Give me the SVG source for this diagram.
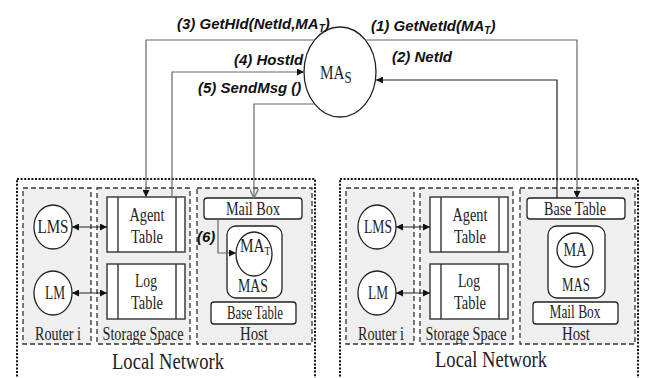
<svg xmlns="http://www.w3.org/2000/svg" width="645" height="378" viewBox="0 0 645 378">
<style>
.outer{fill:#fff;stroke:#111;stroke-width:2;stroke-dasharray:2 1.6}
.dash{fill:#efefef;stroke:#333;stroke-width:1.3;stroke-dasharray:5 3}
.tbl{fill:#fff;stroke:#333;stroke-width:1.4}
.box{fill:#fff;stroke:#222;stroke-width:1.3}
.ell{fill:#fff;stroke:#222;stroke-width:1.3}
.s{font-family:"Liberation Serif","Times New Roman",serif;fill:#222;font-size:19px;text-anchor:middle}
.sl{font-family:"Liberation Serif","Times New Roman",serif;fill:#222;font-size:19px}
.ln{font-family:"Liberation Serif","Times New Roman",serif;fill:#222;font-size:24px;text-anchor:middle}
.lab{font-family:"Liberation Sans",Arial,sans-serif;font-weight:bold;font-style:italic;font-size:15px;fill:#111}
.c{fill:none;stroke:#666;stroke-width:1.2}
.cb{fill:none;stroke:#222;stroke-width:1.2}
</style>
<defs>
<marker id="ah" viewBox="0 0 10 10" refX="10" refY="5" markerWidth="7" markerHeight="7" markerUnits="userSpaceOnUse" orient="auto-start-reverse"><path d="M0,0 L10,5 L0,10 z" fill="#111"/></marker>
<marker id="ao" viewBox="0 0 10 10" refX="10" refY="5" markerWidth="9" markerHeight="9" markerUnits="userSpaceOnUse" orient="auto"><path d="M0,0 L10,5 L0,10" fill="none" stroke="#777" stroke-width="1.5"/></marker>
</defs>

<!-- Left local network -->
<g id="localNetwork1">
<rect class="outer" x="17" y="179" width="298" height="240"/>
<text class="ln" x="168" y="369" textLength="112" lengthAdjust="spacingAndGlyphs">Local Network</text>
</g>
<g id="router1">
<rect class="dash" x="23" y="188" width="68" height="156"/>
<text class="s" x="58" y="340" textLength="46" lengthAdjust="spacingAndGlyphs">Router i</text>
</g>
<g id="storage1">
<rect class="dash" x="97" y="188" width="93" height="156"/>
<text class="s" x="143" y="340" textLength="81" lengthAdjust="spacingAndGlyphs">Storage Space</text>
</g>
<g id="host1">
<rect class="dash" x="197" y="188" width="115" height="156"/>
<text class="s" x="254" y="340" textLength="28" lengthAdjust="spacingAndGlyphs">Host</text>
</g>
<g id="lms1">
<ellipse class="ell" cx="53" cy="227" rx="19" ry="22"/>
<text class="s" x="53" y="233" textLength="31" lengthAdjust="spacingAndGlyphs">LMS</text>
</g>
<g id="lm1">
<ellipse class="ell" cx="53" cy="293" rx="19" ry="22"/>
<text class="s" x="55" y="299" textLength="20" lengthAdjust="spacingAndGlyphs">LM</text>
</g>
<g id="agentTable1">
<rect class="tbl" x="107" y="197" width="78" height="55"/>
<path class="tbl" d="M118,197 V252 M176,197 V252"/>
<text class="s" x="147" y="221" textLength="35" lengthAdjust="spacingAndGlyphs">Agent</text>
<text class="s" x="147" y="243" textLength="32" lengthAdjust="spacingAndGlyphs">Table</text>
</g>
<g id="logTable1">
<rect class="tbl" x="107" y="264" width="78" height="55"/>
<path class="tbl" d="M118,264 V319 M176,264 V319"/>
<text class="s" x="146" y="287" textLength="22" lengthAdjust="spacingAndGlyphs">Log</text>
<text class="s" x="147" y="309" textLength="32" lengthAdjust="spacingAndGlyphs">Table</text>
</g>
<g id="mailBox1">
<rect class="box" x="204" y="198" width="98" height="21" rx="3"/>
<text class="s" x="253" y="215" textLength="54" lengthAdjust="spacingAndGlyphs">Mail Box</text>
</g>
<g id="mas1">
<rect class="box" x="227" y="226" width="55" height="72" rx="9"/>
<text class="s" x="253" y="292" textLength="30" lengthAdjust="spacingAndGlyphs">MAS</text>
</g>
<g id="maT">
<ellipse class="ell" cx="254" cy="254" rx="18" ry="22"/>
<text class="sl" transform="translate(240,252) scale(0.8,1)" x="0" y="0" font-size="18">MA<tspan font-size="12" dy="3">T</tspan></text>
</g>
<g id="baseTable1">
<rect class="box" x="211" y="302" width="85" height="22" rx="3"/>
<text class="s" x="255" y="319" textLength="56" lengthAdjust="spacingAndGlyphs">Base Table</text>
</g>

<!-- Right local network -->
<g id="localNetwork2">
<rect class="outer" x="340" y="179" width="298" height="240"/>
<text class="ln" x="491" y="367" textLength="112" lengthAdjust="spacingAndGlyphs">Local Network</text>
</g>
<g id="router2">
<rect class="dash" x="346" y="188" width="68" height="156"/>
<text class="s" x="381" y="340" textLength="46" lengthAdjust="spacingAndGlyphs">Router i</text>
</g>
<g id="storage2">
<rect class="dash" x="420" y="188" width="93" height="156"/>
<text class="s" x="466" y="340" textLength="81" lengthAdjust="spacingAndGlyphs">Storage Space</text>
</g>
<g id="host2">
<rect class="dash" x="520" y="188" width="115" height="156"/>
<text class="s" x="576" y="340" textLength="28" lengthAdjust="spacingAndGlyphs">Host</text>
</g>
<g id="lms2">
<ellipse class="ell" cx="377" cy="227" rx="19" ry="22"/>
<text class="s" x="378" y="233" textLength="28" lengthAdjust="spacingAndGlyphs">LMS</text>
</g>
<g id="lm2">
<ellipse class="ell" cx="377" cy="293" rx="19" ry="22"/>
<text class="s" x="378" y="299" textLength="20" lengthAdjust="spacingAndGlyphs">LM</text>
</g>
<g id="agentTable2">
<rect class="tbl" x="430" y="197" width="78" height="55"/>
<path class="tbl" d="M441,197 V252 M499,197 V252"/>
<text class="s" x="470" y="221" textLength="35" lengthAdjust="spacingAndGlyphs">Agent</text>
<text class="s" x="470" y="243" textLength="32" lengthAdjust="spacingAndGlyphs">Table</text>
</g>
<g id="logTable2">
<rect class="tbl" x="430" y="264" width="78" height="55"/>
<path class="tbl" d="M441,264 V319 M499,264 V319"/>
<text class="s" x="469" y="287" textLength="22" lengthAdjust="spacingAndGlyphs">Log</text>
<text class="s" x="470" y="309" textLength="32" lengthAdjust="spacingAndGlyphs">Table</text>
</g>
<g id="baseTable2">
<rect class="box" x="527" y="198" width="98" height="21" rx="3"/>
<text class="s" x="575" y="215" textLength="62" lengthAdjust="spacingAndGlyphs">Base Table</text>
</g>
<g id="mas2">
<rect class="box" x="548" y="226" width="57" height="72" rx="9"/>
<text class="s" x="576" y="291" textLength="28" lengthAdjust="spacingAndGlyphs">MAS</text>
</g>
<g id="ma">
<ellipse class="ell" cx="575" cy="250" rx="18" ry="17"/>
<text class="s" x="575" y="256" textLength="23" lengthAdjust="spacingAndGlyphs">MA</text>
</g>
<g id="mailBox2">
<rect class="box" x="533" y="302" width="85" height="22" rx="3"/>
<text class="s" x="575" y="318" textLength="51" lengthAdjust="spacingAndGlyphs">Mail Box</text>
</g>

<!-- Central MA_S -->
<g id="maS">
<ellipse class="ell" cx="340" cy="72" rx="36" ry="45"/>
<text class="sl" transform="translate(320,79) scale(0.8,1)" x="0" y="0" font-size="23">MA<tspan font-size="16" dy="4">S</tspan></text>
</g>

<!-- Connectors -->
<g id="connectors">
<path class="cb" d="M72,227 H107" marker-start="url(#ah)" marker-end="url(#ah)"/>
<path class="cb" d="M72,293 H107" marker-start="url(#ah)" marker-end="url(#ah)"/>
<path class="cb" d="M396,227 H430" marker-start="url(#ah)" marker-end="url(#ah)"/>
<path class="cb" d="M396,293 H430" marker-start="url(#ah)" marker-end="url(#ah)"/>
<path class="c" d="M315,40 H146 V197" marker-end="url(#ah)"/>
<path class="c" d="M365,40 H577 V198" marker-end="url(#ah)"/>
<path class="cb" d="M557,198 V80 H376" marker-end="url(#ah)"/>
<path class="c" d="M172,197 V72 H304" marker-end="url(#ah)"/>
<path class="c" d="M314,104 H254 V198" marker-end="url(#ao)"/>
<path class="c" d="M218,219 V253 H236" marker-end="url(#ah)"/>
<text class="lab" x="177" y="29">(3) GetHId(NetId,MA<tspan font-size="10" dy="3">T</tspan><tspan dy="-3">)</tspan></text>
<text class="lab" x="371" y="31">(1) GetNetId(MA<tspan font-size="10" dy="3">T</tspan><tspan dy="-3">)</tspan></text>
<text class="lab" x="234" y="65">(4) HostId</text>
<text class="lab" x="392" y="62">(2) NetId</text>
<text class="lab" x="198" y="93">(5) SendMsg ()</text>
<text class="lab" x="197" y="242">(6)</text>
</g>
</svg>
